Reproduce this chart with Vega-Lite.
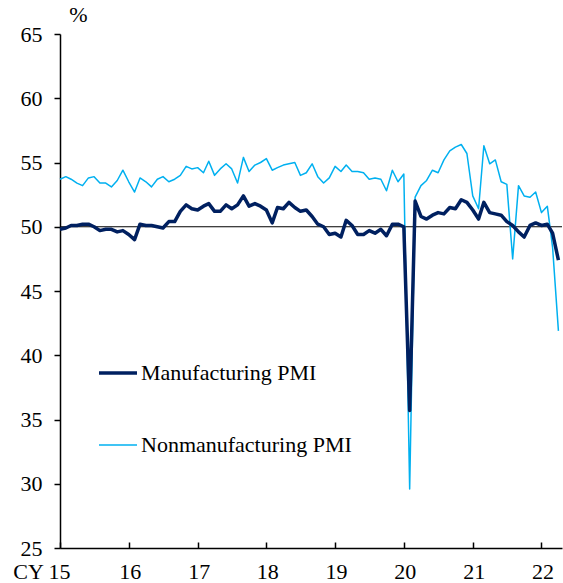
{
  "$schema": "https://vega.github.io/schema/vega-lite/v6.json",
  "width": 502,
  "height": 514,
  "autosize": {"type": "none"},
  "padding": {"left": 60, "top": 34, "right": 1, "bottom": 35},
  "background": "white",
  "config": {
    "view": {"stroke": null},
    "font": "Liberation Serif",
    "axis": {"grid": false, "domainColor": "black", "domainWidth": 1.5, "tickColor": "black", "tickWidth": 1.5, "labelColor": "black", "labelFont": "Liberation Serif", "labelFontSize": 22, "titleFont": "Liberation Serif", "titleFontWeight": "normal", "titleColor": "black"}
  },
  "layer": [
    {
      "data": {"values": [{"ref": 50}]},
      "mark": {"type": "rule", "color": "black", "strokeWidth": 1},
      "encoding": {"y": {"field": "ref", "type": "quantitative", "scale": {"domain": [25, 65]}}}
    },
    {
      "data": {"values": [
        {"date":"2015-01-01","mfg":49.8,"nonmfg":53.7},{"date":"2015-02-01","mfg":49.9,"nonmfg":53.9},{"date":"2015-03-01","mfg":50.1,"nonmfg":53.7},{"date":"2015-04-01","mfg":50.1,"nonmfg":53.4},{"date":"2015-05-01","mfg":50.2,"nonmfg":53.2},{"date":"2015-06-01","mfg":50.2,"nonmfg":53.8},{"date":"2015-07-01","mfg":50.0,"nonmfg":53.9},{"date":"2015-08-01","mfg":49.7,"nonmfg":53.4},{"date":"2015-09-01","mfg":49.8,"nonmfg":53.4},{"date":"2015-10-01","mfg":49.8,"nonmfg":53.1},{"date":"2015-11-01","mfg":49.6,"nonmfg":53.6},{"date":"2015-12-01","mfg":49.7,"nonmfg":54.4},
        {"date":"2016-01-01","mfg":49.4,"nonmfg":53.5},{"date":"2016-02-01","mfg":49.0,"nonmfg":52.7},{"date":"2016-03-01","mfg":50.2,"nonmfg":53.8},{"date":"2016-04-01","mfg":50.1,"nonmfg":53.5},{"date":"2016-05-01","mfg":50.1,"nonmfg":53.1},{"date":"2016-06-01","mfg":50.0,"nonmfg":53.7},{"date":"2016-07-01","mfg":49.9,"nonmfg":53.9},{"date":"2016-08-01","mfg":50.4,"nonmfg":53.5},{"date":"2016-09-01","mfg":50.4,"nonmfg":53.7},{"date":"2016-10-01","mfg":51.2,"nonmfg":54.0},{"date":"2016-11-01","mfg":51.7,"nonmfg":54.7},{"date":"2016-12-01","mfg":51.4,"nonmfg":54.5},
        {"date":"2017-01-01","mfg":51.3,"nonmfg":54.6},{"date":"2017-02-01","mfg":51.6,"nonmfg":54.2},{"date":"2017-03-01","mfg":51.8,"nonmfg":55.1},{"date":"2017-04-01","mfg":51.2,"nonmfg":54.0},{"date":"2017-05-01","mfg":51.2,"nonmfg":54.5},{"date":"2017-06-01","mfg":51.7,"nonmfg":54.9},{"date":"2017-07-01","mfg":51.4,"nonmfg":54.5},{"date":"2017-08-01","mfg":51.7,"nonmfg":53.4},{"date":"2017-09-01","mfg":52.4,"nonmfg":55.4},{"date":"2017-10-01","mfg":51.6,"nonmfg":54.3},{"date":"2017-11-01","mfg":51.8,"nonmfg":54.8},{"date":"2017-12-01","mfg":51.6,"nonmfg":55.0},
        {"date":"2018-01-01","mfg":51.3,"nonmfg":55.3},{"date":"2018-02-01","mfg":50.3,"nonmfg":54.4},{"date":"2018-03-01","mfg":51.5,"nonmfg":54.6},{"date":"2018-04-01","mfg":51.4,"nonmfg":54.8},{"date":"2018-05-01","mfg":51.9,"nonmfg":54.9},{"date":"2018-06-01","mfg":51.5,"nonmfg":55.0},{"date":"2018-07-01","mfg":51.2,"nonmfg":54.0},{"date":"2018-08-01","mfg":51.3,"nonmfg":54.2},{"date":"2018-09-01","mfg":50.8,"nonmfg":54.9},{"date":"2018-10-01","mfg":50.2,"nonmfg":53.9},{"date":"2018-11-01","mfg":50.0,"nonmfg":53.4},{"date":"2018-12-01","mfg":49.4,"nonmfg":53.8},
        {"date":"2019-01-01","mfg":49.5,"nonmfg":54.7},{"date":"2019-02-01","mfg":49.2,"nonmfg":54.3},{"date":"2019-03-01","mfg":50.5,"nonmfg":54.8},{"date":"2019-04-01","mfg":50.1,"nonmfg":54.3},{"date":"2019-05-01","mfg":49.4,"nonmfg":54.3},{"date":"2019-06-01","mfg":49.4,"nonmfg":54.2},{"date":"2019-07-01","mfg":49.7,"nonmfg":53.7},{"date":"2019-08-01","mfg":49.5,"nonmfg":53.8},{"date":"2019-09-01","mfg":49.8,"nonmfg":53.7},{"date":"2019-10-01","mfg":49.3,"nonmfg":52.8},{"date":"2019-11-01","mfg":50.2,"nonmfg":54.4},{"date":"2019-12-01","mfg":50.2,"nonmfg":53.5},
        {"date":"2020-01-01","mfg":50.0,"nonmfg":54.1},{"date":"2020-02-01","mfg":35.7,"nonmfg":29.6},{"date":"2020-03-01","mfg":52.0,"nonmfg":52.3},{"date":"2020-04-01","mfg":50.8,"nonmfg":53.2},{"date":"2020-05-01","mfg":50.6,"nonmfg":53.6},{"date":"2020-06-01","mfg":50.9,"nonmfg":54.4},{"date":"2020-07-01","mfg":51.1,"nonmfg":54.2},{"date":"2020-08-01","mfg":51.0,"nonmfg":55.2},{"date":"2020-09-01","mfg":51.5,"nonmfg":55.9},{"date":"2020-10-01","mfg":51.4,"nonmfg":56.2},{"date":"2020-11-01","mfg":52.1,"nonmfg":56.4},{"date":"2020-12-01","mfg":51.9,"nonmfg":55.7},
        {"date":"2021-01-01","mfg":51.3,"nonmfg":52.4},{"date":"2021-02-01","mfg":50.6,"nonmfg":51.4},{"date":"2021-03-01","mfg":51.9,"nonmfg":56.3},{"date":"2021-04-01","mfg":51.1,"nonmfg":54.9},{"date":"2021-05-01","mfg":51.0,"nonmfg":55.2},{"date":"2021-06-01","mfg":50.9,"nonmfg":53.5},{"date":"2021-07-01","mfg":50.4,"nonmfg":53.3},{"date":"2021-08-01","mfg":50.1,"nonmfg":47.5},{"date":"2021-09-01","mfg":49.6,"nonmfg":53.2},{"date":"2021-10-01","mfg":49.2,"nonmfg":52.4},{"date":"2021-11-01","mfg":50.1,"nonmfg":52.3},{"date":"2021-12-01","mfg":50.3,"nonmfg":52.7},
        {"date":"2022-01-01","mfg":50.1,"nonmfg":51.1},{"date":"2022-02-01","mfg":50.2,"nonmfg":51.6},{"date":"2022-03-01","mfg":49.5,"nonmfg":48.4},{"date":"2022-04-01","mfg":47.4,"nonmfg":41.9}
      ]},
      "transform": [{"fold": ["nonmfg", "mfg"], "as": ["series", "value"]}],
      "mark": {"type": "line", "strokeJoin": "round", "strokeCap": "butt"},
      "encoding": {
        "x": {
          "field": "date", "type": "temporal",
          "scale": {"type": "utc", "domain": [{"year": 2015, "month": 1, "date": 1, "utc": true}, {"year": 2022, "month": 4, "date": 20, "utc": true}]},
          "axis": {
            "title": null,
            "values": [
              {"year": 2015, "month": 1, "date": 1, "utc": true}, {"year": 2016, "month": 1, "date": 1, "utc": true},
              {"year": 2017, "month": 1, "date": 1, "utc": true}, {"year": 2018, "month": 1, "date": 1, "utc": true},
              {"year": 2019, "month": 1, "date": 1, "utc": true}, {"year": 2020, "month": 1, "date": 1, "utc": true},
              {"year": 2021, "month": 1, "date": 1, "utc": true}, {"year": 2022, "month": 1, "date": 1, "utc": true}
            ],
            "labelExpr": "utcFormat(datum.value, '%Y') == '2015' ? 'CY 15' : utcFormat(datum.value, '%y')",
            "labelAlign": {"condition": {"test": "utcFormat(datum.value, '%Y') == '2015'", "value": "right"}, "value": "center"},
            "labelOffset": {"condition": {"test": "utcFormat(datum.value, '%Y') == '2015'", "value": 10}, "value": 1},
            "labelFlush": false,
            "labelOverlap": false,
            "tickSize": -6,
            "labelPadding": 19
          }
        },
        "y": {
          "field": "value", "type": "quantitative",
          "scale": {"domain": [25, 65], "nice": false, "zero": false},
          "axis": {"values": [25, 30, 35, 40, 45, 50, 55, 60, 65], "tickSize": 6, "labelPadding": 12, "title": "%", "titleAngle": 0, "titleAlign": "center", "titleBaseline": "bottom", "titleX": 18, "titleY": -8, "titleFontSize": 22}
        },
        "color": {
          "field": "series", "type": "nominal",
          "scale": {"domain": ["mfg", "nonmfg"], "range": ["#002060", "#00B0F0"]},
          "legend": {
            "title": null, "orient": "none", "legendX": 37, "legendY": 318,
            "symbolType": "stroke", "symbolSize": 1444, "rowPadding": 41, "labelOffset": 2,
            "labelFont": "Liberation Serif", "labelFontSize": 22, "labelColor": "black", "labelLimit": 400,
            "labelExpr": "datum.label == 'mfg' ? 'Manufacturing PMI' : 'Nonmanufacturing PMI'"
          }
        },
        "strokeWidth": {
          "field": "series", "type": "nominal",
          "scale": {"domain": ["mfg", "nonmfg"], "range": [3.5, 1.5]},
          "legend": null
        }
      }
    }
  ]
}
